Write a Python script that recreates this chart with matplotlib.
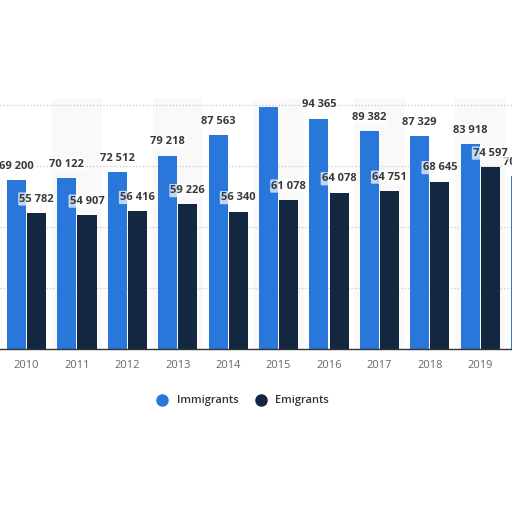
import matplotlib.pyplot as plt
from matplotlib.lines import Line2D
import numpy as np

# Data (2015 immigrant label and 2020 are cut off in the picture)
years = ["2010", "2011", "2012", "2013", "2014", "2015", "2016", "2017", "2018", "2019", "2020"]
immigrants = [69200, 70122, 72512, 79218, 87563, 99050, 94365, 89382, 87329, 83918, 70900]
emigrants = [55782, 54907, 56416, 59226, 56340, 61078, 64078, 64751, 68645, 74597, np.nan]

col_imm = "#2a77dc"
col_emi = "#132840"
txt_col = "#3a3a3a"

plt.rcParams["font.family"] = ["Open Sans", "DejaVu Sans"]

fig = plt.figure(figsize=(5.12, 5.12), dpi=100)
ax = fig.add_axes([0.0, 1 - 349 / 512, 1.0, 251 / 512])

x = np.arange(len(years))
w = 0.38

# very faint alternating column shading
for i in x:
    if i % 2 == 1:
        ax.axvspan(i - 0.5, i + 0.5, color="#f9f9fa", zorder=0, lw=0)

ax.bar(x - 0.2, immigrants, width=w, color=col_imm, zorder=2, label="Immigrants")
ax.bar(x + 0.2, emigrants, width=w, color=col_emi, zorder=2, label="Emigrants")


def fmt(v):
    return f"{int(v):,}".replace(",", " ")


def add_labels(xs, vals):
    for xi, v in zip(xs, vals):
        if np.isnan(v):
            continue
        ax.annotate(fmt(v), (xi, v), xytext=(0, 10), textcoords="offset points",
                    ha="center", va="center", fontsize=8, fontweight="bold", color=txt_col,
                    annotation_clip=False, clip_on=True, zorder=4,
                    bbox=dict(boxstyle="round,pad=0.1", fc="white", ec="none", alpha=0.7))


add_labels(x - 0.2, immigrants)
add_labels(x + 0.2, emigrants)

ax.set_xticks(x)
ax.set_xticklabels(years)
ax.set_yticks([25000, 50000, 75000, 100000])
ax.set_xlim(-0.526, 9.63)
ax.set_ylim(0, 102870)
ax.yaxis.grid(True, linestyle=":", color="#c8c8c8", linewidth=0.9, zorder=1)
ax.set_axisbelow(True)
ax.tick_params(axis="y", left=False, labelleft=False)
ax.tick_params(axis="x", length=0, pad=8, labelsize=8, labelcolor="#666666")

for s in ["top", "left", "right"]:
    ax.spines[s].set_visible(False)
ax.spines["bottom"].set_color("#333333")
ax.spines["bottom"].set_linewidth(1)

handles = [Line2D([], [], marker="o", ls="", ms=8, color=col_imm, label="Immigrants"),
           Line2D([], [], marker="o", ls="", ms=8, color=col_emi, label="Emigrants")]
leg = fig.legend(handles=handles, loc="center", bbox_to_anchor=(240 / 512, 1 - 401 / 512),
                 ncol=2, frameon=False, fontsize=8, handletextpad=0.3, columnspacing=1.0)
for t in leg.get_texts():
    t.set_color("#333333")
    t.set_fontweight("semibold")

fig.savefig("out.png", dpi=100)
